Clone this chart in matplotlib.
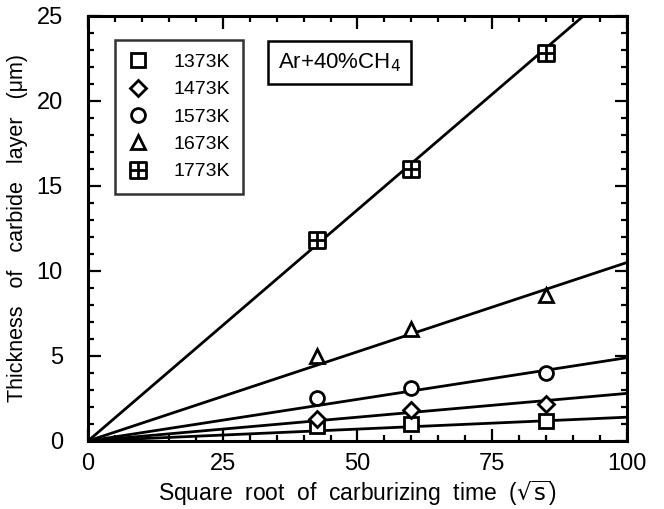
import matplotlib
matplotlib.use('Agg')
import numpy as np
import matplotlib.pyplot as plt
from matplotlib.path import Path
from matplotlib.ticker import MultipleLocator

plt.rcParams['font.family'] = ['Liberation Sans', 'DejaVu Sans']

# data
temps = ['1373K', '1473K', '1573K', '1673K', '1773K']
x_time = [42.4, 60.0, 84.9]  # sqrt(1800), sqrt(3600), sqrt(7200)
thick_1373 = [0.9, 1.0, 1.2]
thick_1473 = [1.3, 1.8, 2.2]
thick_1573 = [2.5, 3.1, 4.0]
thick_1673 = [5.0, 6.6, 8.6]
thick_1773 = [11.8, 16.0, 22.8]
slopes = [0.014, 0.028, 0.049, 0.105, 0.272]  # fitted lines through origin

# square with a cross inside
sq_cross = Path(
    [(-1, -1), (1, -1), (1, 1), (-1, 1), (-1, -1), (0, -1), (0, 1), (-1, 0), (1, 0)],
    [Path.MOVETO, Path.LINETO, Path.LINETO, Path.LINETO, Path.CLOSEPOLY,
     Path.MOVETO, Path.LINETO, Path.MOVETO, Path.LINETO])

markers = ['s', 'D', 'o', '^', sq_cross]
sizes = [10, 8, 10, 10, 11]
series = [thick_1373, thick_1473, thick_1573, thick_1673, thick_1773]

fig = plt.figure(figsize=(6.64, 5.09), dpi=100)
ax = fig.add_axes([0.1325, 0.1336, 0.8117, 0.835])

xl = np.array([0, 100])
for s in slopes:
    ax.plot(xl, s * xl, color='black', lw=2, zorder=2)

handles = []
for lab, m, ms, y in zip(temps, markers, sizes, series):
    h, = ax.plot(x_time, y, linestyle='none', marker=m, markersize=ms,
                 markerfacecolor='white', markeredgecolor='black',
                 markeredgewidth=2, label=lab, zorder=3)
    handles.append(h)

ax.set_xlim(0, 100)
ax.set_ylim(0, 25)
ax.xaxis.set_major_locator(MultipleLocator(25))
ax.xaxis.set_minor_locator(MultipleLocator(5))
ax.yaxis.set_major_locator(MultipleLocator(5))
ax.yaxis.set_minor_locator(MultipleLocator(1))
ax.tick_params(which='both', direction='in', top=True, right=True, width=1.6,
               labelsize=17, colors='black')
ax.tick_params(which='major', length=9)
ax.tick_params(which='minor', length=4)
ax.tick_params(axis='x', which='major', pad=9)
ax.tick_params(axis='y', which='major', pad=18)
for sp in ax.spines.values():
    sp.set_linewidth(2.2)

ax.set_xlabel('Square  root  of  carburizing  time  ($\\sqrt{\\mathrm{s}}$)', fontsize=16.5, labelpad=2)
ax.set_ylabel('Thickness   of   carbide   layer   (μm)', fontsize=15.5, labelpad=6)

leg = ax.legend(handles=handles, loc='upper left', bbox_to_anchor=(0.05, 0.944),
                fontsize=14, frameon=True, fancybox=False, edgecolor='black',
                handlelength=1.0, handletextpad=1.3, labelspacing=0.5,
                borderpad=0.7, borderaxespad=0)
leg.get_frame().set_linewidth(1.8)

ax.text(0.467, 0.89, 'Ar+40%CH$_4$', transform=ax.transAxes, fontsize=16,
        ha='center', va='center',
        bbox=dict(boxstyle='square,pad=0.45', facecolor='white', edgecolor='black', lw=1.8))

fig.savefig('out.png', dpi=100)
